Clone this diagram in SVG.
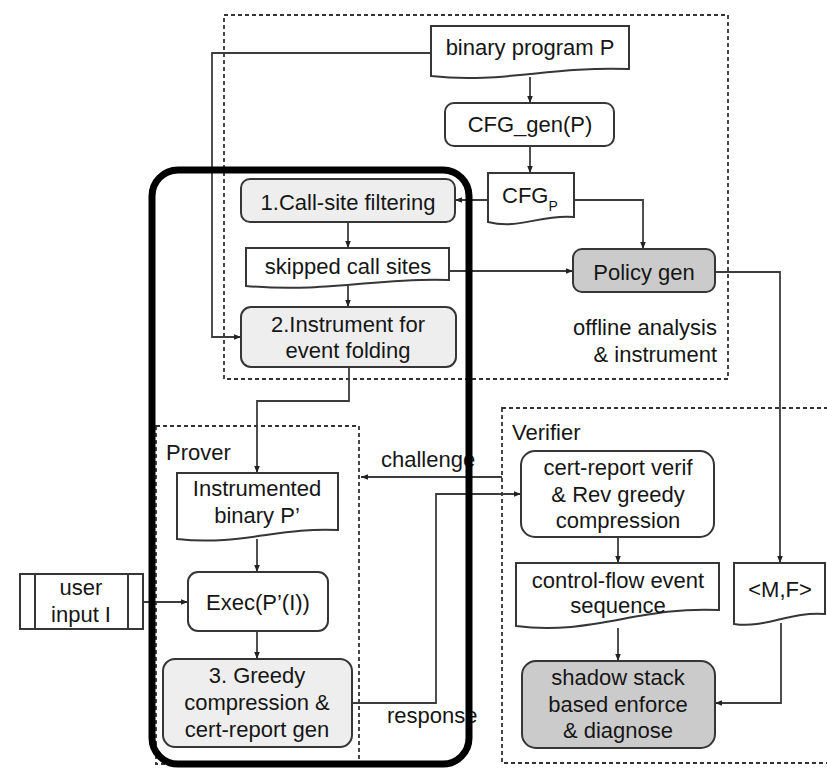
<svg xmlns="http://www.w3.org/2000/svg" width="827" height="770" viewBox="0 0 827 770">
<style>
text{font-family:"Liberation Sans",Arial,sans-serif;font-size:22px;fill:#161616}
.c{text-anchor:middle}
.e{text-anchor:end}
.box{stroke:#363636;stroke-width:2;fill:#fff}
.lg{fill:#eeeeee}
.dg{fill:#cbcbcb}
.dash{fill:none;stroke:#333;stroke-width:1.8;stroke-dasharray:4 3}
.ln{fill:none;stroke:#3c3c3c;stroke-width:1.8;marker-end:url(#ah)}
</style>
<defs>
<marker id="ah" viewBox="0 0 10 10" refX="10" refY="5" markerWidth="7" markerHeight="7" markerUnits="userSpaceOnUse" orient="auto">
<path d="M0,1 L10,5 L0,9 z" fill="#222"/>
</marker>
</defs>
<rect width="827" height="770" fill="#fff"/>

<g id="regions">
<rect class="dash" x="224" y="15" width="504" height="364"/>
<rect class="dash" x="156" y="426" width="203" height="338"/>
<rect class="dash" x="502" y="408" width="340" height="355"/>
<text class="e" x="717" y="335">offline analysis</text>
<text class="e" x="717" y="362">&amp; instrument</text>
<text x="166" y="460">Prover</text>
<text x="512" y="440">Verifier</text>
</g>

<g id="connectors">
<path class="ln" d="M431,53 H212 V337 H241"/>
<path class="ln" d="M530,77 V103"/>
<path class="ln" d="M530,146 V173"/>
<path class="ln" d="M488,200 H455"/>
<path class="ln" d="M574,200 H643 V249"/>
<path class="ln" d="M348,222 V248"/>
<path class="ln" d="M348,286 V307"/>
<path class="ln" d="M449,271 H573"/>
<path class="ln" d="M715,272 H780 V563"/>
<path class="ln" d="M349,367 V401 H257 V473"/>
<path class="ln" d="M257,539 V572"/>
<path class="ln" d="M143,602 H188"/>
<path class="ln" d="M257,631 V659"/>
<path class="ln" d="M502,477 H361"/>
<path class="ln" d="M352,703 H436 V494 H521"/>
<path class="ln" d="M618,537 V563"/>
<path class="ln" d="M618,628 V661"/>
<path class="ln" d="M781,623 V703 H715"/>
<text x="381" y="467">challenge</text>
<text x="387" y="723">response</text>
</g>

<g id="binary">
<path class="box" d="M431,26 H629 V69 C550,66 500,84 431,76 Z"/>
<text class="c" x="530" y="55">binary program P</text>
</g>
<g id="cfggen">
<rect class="box" x="445" y="103" width="169" height="43" rx="9"/>
<text class="c" x="530" y="132">CFG_gen(P)</text>
</g>
<g id="cfgp">
<path class="box" d="M488,173 H574 V217 C540,214 520,230 488,222 Z"/>
<text x="502" y="203">CFG<tspan font-size="14" dy="8">P</tspan></text>
</g>
<g id="callsite">
<rect class="box lg" x="241" y="179" width="214" height="43" rx="9"/>
<text class="c" x="348" y="210">1.Call-site filtering</text>
</g>
<g id="skipped">
<path class="box" d="M246,248 H449 V280 C380,277 330,293 246,286 Z"/>
<text class="c" x="348" y="274">skipped call sites</text>
</g>
<g id="instrument">
<rect class="box lg" x="241" y="307" width="215" height="60" rx="10"/>
<text class="c" x="348" y="332">2.Instrument for</text>
<text class="c" x="348" y="358">event folding</text>
</g>
<g id="policy">
<rect class="box dg" x="573" y="249" width="142" height="43" rx="9"/>
<text class="c" x="644" y="280">Policy gen</text>
</g>
<g id="instrumented">
<path class="box" d="M177,473 H338 V530 C280,527 240,546 177,539 Z"/>
<text class="c" x="257" y="496">Instrumented</text>
<text class="c" x="257" y="523">binary P’</text>
</g>
<g id="userinput">
<rect class="box" x="20" y="574" width="123" height="55"/>
<line x1="35" y1="574" x2="35" y2="629" stroke="#363636" stroke-width="2"/>
<line x1="128" y1="574" x2="128" y2="629" stroke="#363636" stroke-width="2"/>
<text class="c" x="81" y="595">user</text>
<text class="c" x="81" y="622">input I</text>
</g>
<g id="exec">
<rect class="box" x="188" y="572" width="140" height="59" rx="10"/>
<text class="c" x="258" y="610">Exec(P’(I))</text>
</g>
<g id="greedy">
<rect class="box lg" x="163" y="659" width="189" height="88" rx="12"/>
<text class="c" x="257" y="683">3. Greedy</text>
<text class="c" x="257" y="710">compression &amp;</text>
<text class="c" x="257" y="737">cert-report gen</text>
</g>
<g id="certverif">
<rect class="box" x="521" y="451" width="193" height="86" rx="14"/>
<text class="c" x="618" y="475">cert-report verif</text>
<text class="c" x="618" y="502">&amp; Rev greedy</text>
<text class="c" x="618" y="528">compression</text>
</g>
<g id="cfevents">
<path class="box" d="M516,563 H719 V610 C640,606 590,636 516,626 Z"/>
<text class="c" x="618" y="588">control-flow event</text>
<text class="c" x="618" y="613">sequence</text>
</g>
<g id="mf">
<path class="box" d="M734,563 H825 V614 C790,611 765,629 734,624 Z"/>
<text class="c" x="780" y="597">&lt;M,F&gt;</text>
</g>
<g id="shadow">
<rect class="box dg" x="522" y="661" width="193" height="87" rx="14"/>
<text class="c" x="618" y="685">shadow stack</text>
<text class="c" x="618" y="712">based enforce</text>
<text class="c" x="618" y="738">&amp; diagnose</text>
</g>

<g id="highlight">
<rect x="152" y="170" width="317" height="594" rx="26" fill="none" stroke="#000" stroke-width="7"/>
</g>
</svg>
